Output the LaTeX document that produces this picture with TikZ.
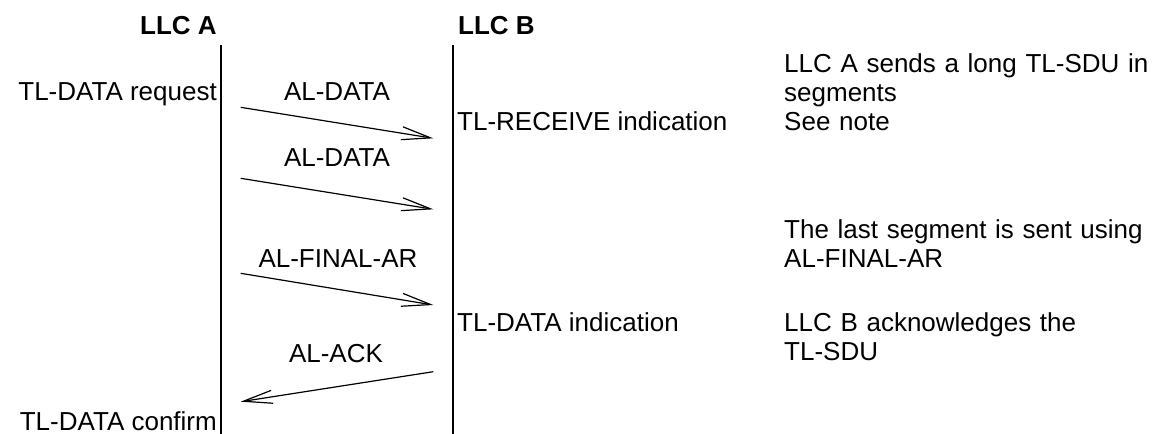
\documentclass[tikz,border=0pt]{standalone}
\usepackage{fontspec}
\setmainfont{Liberation Sans}
\usetikzlibrary{arrows.meta}
\begin{document}
\begin{tikzpicture}[x=1pt,y=-1pt,
  lbl/.style={inner sep=0pt, font=\fontsize{26}{29}\selectfont},
  ttl/.style={inner sep=0pt, anchor=base west, font=\fontsize{26}{29}\selectfont\bfseries},
  note/.style={lbl, anchor=base west, text width=366pt, align=left},
  lifeline/.style={line width=2pt},
  msg/.style={line width=1.2pt, -{Straight Barb[length=29pt,width=13pt]}}]
\useasboundingbox (0,0) rectangle (1152,434);
% titles
\node[ttl] (ttlA) at (140,34) {LLC A};
\node[ttl] (ttlB) at (458,34) {LLC B};
% lifelines
\coordinate (Atop) at (220.5,45);
\coordinate (Abot) at (220.5,434);
\coordinate (Btop) at (452.7,45);
\coordinate (Bbot) at (452.7,434);
\draw[lifeline] (Atop) -- (Abot);
\draw[lifeline] (Btop) -- (Bbot);
% primitives at A
\node[lbl, anchor=base east] (req) at (217,100) {TL-DATA request};
\node[lbl, anchor=base east] (cnf) at (217,430) {TL-DATA confirm};
% primitives at B
\node[lbl, anchor=base west] (rcv) at (457,130) {TL-RECEIVE indication};
\node[lbl, anchor=base west] (ind) at (457,331) {TL-DATA indication};
% message labels
\node[lbl, anchor=base] (l1) at (337,100) {AL-DATA};
\node[lbl, anchor=base] (l2) at (337,166) {AL-DATA};
\node[lbl, anchor=base] (l3) at (338,267) {AL-FINAL-AR};
\node[lbl, anchor=base] (l4) at (336,362) {AL-ACK};
% message end points
\coordinate (m1s) at (240.7,107.3);
\coordinate (m1e) at (433.3,138.3);
\coordinate (m2s) at (240.7,178.3);
\coordinate (m2e) at (433.3,209.3);
\coordinate (m3s) at (240.7,273.3);
\coordinate (m3e) at (433.3,305);
\coordinate (m4s) at (433.3,371.7);
\coordinate (m4e) at (240.7,401.7);
\draw[msg] (m1s) -- (m1e);
\draw[msg] (m2s) -- (m2e);
\draw[msg] (m3s) -- (m3e);
\draw[msg] (m4s) -- (m4e);
% notes
\node[note] (n1) at (784,72) {LLC A sends a long TL-SDU in\\segments\\See note};
\node[note] (n2) at (784,238) {The last segment is sent using\\AL-FINAL-AR};
\node[note] (n3) at (784,331) {LLC B acknowledges the\\TL-SDU};
\end{tikzpicture}
\end{document}
